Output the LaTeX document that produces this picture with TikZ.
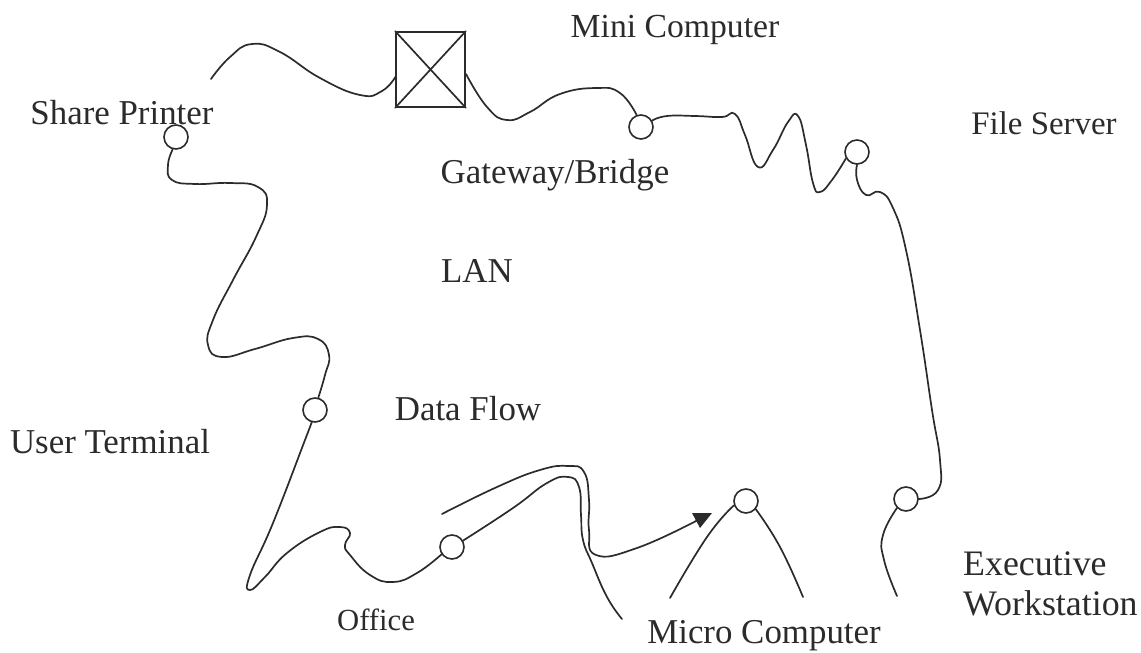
\documentclass[tikz,border=0pt]{standalone}
\usepackage{fontspec}
\setmainfont{Liberation Serif}
\begin{document}
\begin{tikzpicture}[x=1bp,y=-1bp,
  wire/.style={draw=ink,line width=1.7bp,line cap=round,line join=round},
  port/.style={circle,draw=ink,line width=1.6bp,minimum size=24bp,inner sep=0pt},
  lab/.style={anchor=base,text=ink,font=\fontsize{35}{38}\selectfont,inner sep=0pt},
  minilab/.style={lab,font=\fontsize{33.8}{36}\selectfont},
  filelab/.style={lab,font=\fontsize{33}{36}\selectfont},
  smalllab/.style={lab,font=\fontsize{30.8}{33}\selectfont},
  sidelab/.style={lab,anchor=base west,font=\fontsize{36}{39}\selectfont}]
\definecolor{ink}{HTML}{2B2B2B}
\useasboundingbox (0,0) rectangle (1141,653);
\node[port] (printer) at (176,137) {};
\node[port] (gateway) at (641,127) {};
\node[port] (server) at (857,152) {};
\node[port] (exec) at (906,499) {};
\node[port] (micro) at (746,501) {};
\node[port] (office) at (452,547) {};
\node[port] (user) at (315,410) {};
\node[draw=ink,line width=1.6bp,minimum width=69bp,minimum height=75bp,inner sep=0pt] (bridge) at (430.5,69.5) {};
\draw[wire] (bridge.north west) -- (bridge.south east);
\draw[wire] (bridge.north east) -- (bridge.south west);
\coordinate (lanstart) at (211,79);
\coordinate (bridgel) at (396,76);
\coordinate (bridger) at (466,74);
\coordinate (execend) at (897,596);
\coordinate (microl) at (670,598);
\coordinate (micror) at (803,597);
\coordinate (flowstart) at (442,514);
\coordinate (flowend) at (698,520);
\coordinate (bendend) at (622,619);
\draw[wire] plot[smooth,tension=0.8] coordinates {(lanstart) (230,57) (252,44) (280,52) (320,78) (360,95) (382,91) (bridgel)};
\draw[wire] plot[smooth,tension=0.8] coordinates {(bridger) (487,107) (507,120) (530,112) (560,94) (597,88) (620,93) (gateway.110)};
\draw[wire] plot[smooth,tension=0.8] coordinates {(gateway.30) (667,116) (695,116) (722,117) (735,114) (745,135) (758,167) (773,150) (788,122) (798,116) (806,145) (813,183) (820,192) (832,180) (server.210)};
\draw[wire] plot[smooth,tension=0.8] coordinates {(server.270) (857,180) (866,195) (880,192) (893,208) (906,250) (920,330) (932,410) (940,460) (938,490) (exec.0)};
\draw[wire] plot[smooth,tension=0.8] coordinates {(exec.225) (883,535) (884,560) (execend)};
\draw[wire] plot[smooth,tension=0.8] coordinates {(micro.200) (707,537) (microl)};
\draw[wire] plot[smooth,tension=0.8] coordinates {(micro.320) (780,547) (micror)};
\draw[wire] plot[smooth,tension=0.8] coordinates {(flowstart) (497,487) (540,470) (568,466) (584,472) (589,500) (589,530) (596,555) (637,548) (flowend)};
\fill[ink] (692,513) -- (712,513) -- (700,528) -- cycle;
\draw[wire] plot[smooth,tension=0.8] coordinates {(office.30) (513,508) (547,483) (568,477) (579,487) (581,515) (583,540) (592,563) (607,597) (bendend)};
\draw[wire] plot[smooth,tension=0.8] coordinates {(office.215) (417,573) (393,582) (370,575) (350,555) (345,545) (350,533) (340,527) (320,532) (287,553) (265,577) (250,590) (250,575) (273,523) (305,440) (user.255)};
\draw[wire] plot[smooth,tension=0.8] coordinates {(user.75) (325,375) (329,355) (318,339) (293,338) (255,349) (222,357) (208,345) (213,320) (233,280) (256,237) (267,205) (258,187) (230,183) (195,184) (172,180) (168,165) (printer.255)};
\node[minilab] (t1) at (675,38) {Mini Computer};
\node[filelab] (t2) at (1044,135) {File Server};
\node[lab] (t3) at (555,184) {Gateway/Bridge};
\node[lab] (t4) at (477,282) {LAN};
\node[lab] (t5) at (468,420) {Data Flow};
\node[lab] (t6) at (110,453) {User Terminal};
\node[lab] (t7) at (122,125) {Share Printer};
\node[smalllab] (t8) at (376,630) {Office};
\node[lab] (t9) at (764,643) {Micro Computer};
\node[sidelab] (t10) at (963,575) {Executive};
\node[sidelab] (t11) at (963,615) {Workstation};
\end{tikzpicture}
\end{document}
